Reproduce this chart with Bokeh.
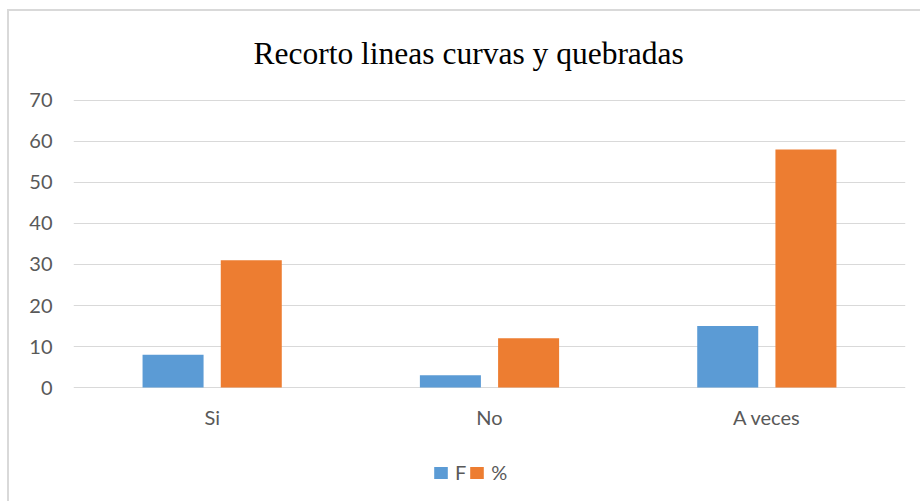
from bokeh.plotting import figure
from bokeh.models import ColumnDataSource, FactorRange, FixedTicker, Legend, LegendItem
from bokeh.transform import dodge
from bokeh.embed import file_html
from bokeh.resources import INLINE

# --- data ---
categories = ["Si", "No", "A veces"]
serie_f = [8, 3, 15]
serie_pct = [31, 12, 58]
series_names = ["F", "%"]
y_ticks = [0, 10, 20, 30, 40, 50, 60, 70]
title_text = "Recorto lineas curvas y quebradas"

BLUE = "#5B9BD5"
ORANGE = "#ED7D31"
TEXT = "#595959"
GRID = "#D9D9D9"

src = ColumnDataSource(dict(cat=categories, f=serie_f, pct=serie_pct))

p = figure(
    width=920, height=501,
    x_range=FactorRange(*categories, range_padding=0),
    y_range=(-26.3, 70.2),
    output_backend="svg", toolbar_location=None,
    min_border_left=73, min_border_right=15,
    min_border_top=99, min_border_bottom=6,
)
# light chart border (left and top) drawn as host background, canvas border transparent
p.styles = {
    "background-color": "white",
    "background-image": "linear-gradient(#D9D9D9, #D9D9D9), linear-gradient(#D9D9D9, #D9D9D9)",
    "background-size": "2px 100%, 100% 2px",
    "background-position": "7px 9px, 7px 9px",
    "background-repeat": "no-repeat",
}
p.border_fill_color = None
p.background_fill_color = "white"
p.outline_line_color = None

r1 = p.vbar(x=dodge("cat", -0.141, range=p.x_range), top="f", width=0.22,
            source=src, fill_color=BLUE, line_color=None)
r2 = p.vbar(x=dodge("cat", 0.141, range=p.x_range), top="pct", width=0.22,
            source=src, fill_color=ORANGE, line_color=None)

p.title.text = title_text
p.title.text_font = "Liberation Serif"
p.title.text_font_size = "31.5px"
p.title.text_font_style = "normal"
p.title.text_color = "#000000"
p.title.align = "left"
p.title.offset = 180
p.title.standoff = 58

p.xgrid.grid_line_color = None
p.ygrid.grid_line_color = GRID
p.ygrid.grid_line_width = 1

p.yaxis.ticker = FixedTicker(ticks=y_ticks)
p.yaxis.axis_line_color = None
p.yaxis.major_tick_line_color = None
p.yaxis.major_tick_out = 0
p.yaxis.major_tick_in = 0
p.yaxis.minor_tick_line_color = None
p.yaxis.major_label_text_font = "Lato"
p.yaxis.major_label_text_font_size = "20px"
p.yaxis.major_label_text_color = TEXT
p.yaxis.major_label_standoff = 21

p.xaxis.fixed_location = 0
p.xaxis.axis_line_color = None
p.xaxis.major_tick_line_color = None
p.xaxis.major_tick_out = 0
p.xaxis.major_tick_in = 0
p.xaxis.minor_tick_line_color = None
p.xaxis.major_label_text_font = "Lato"
p.xaxis.major_label_text_font_size = "20px"
p.xaxis.major_label_text_color = TEXT
p.xaxis.major_label_standoff = 17

legend = Legend(
    items=[LegendItem(label=series_names[0], renderers=[r1]),
           LegendItem(label=series_names[1], renderers=[r2])],
    orientation="horizontal", location=(359, 11),
    label_text_font="Lato", label_text_font_size="20px", label_text_color=TEXT,
    glyph_width=17, glyph_height=15, label_standoff=6, spacing=2, label_width=1,
    border_line_color=None, background_fill_alpha=0, padding=0, margin=0,
)
p.add_layout(legend, "center")

open("out.html", "w").write(file_html(p, INLINE))
